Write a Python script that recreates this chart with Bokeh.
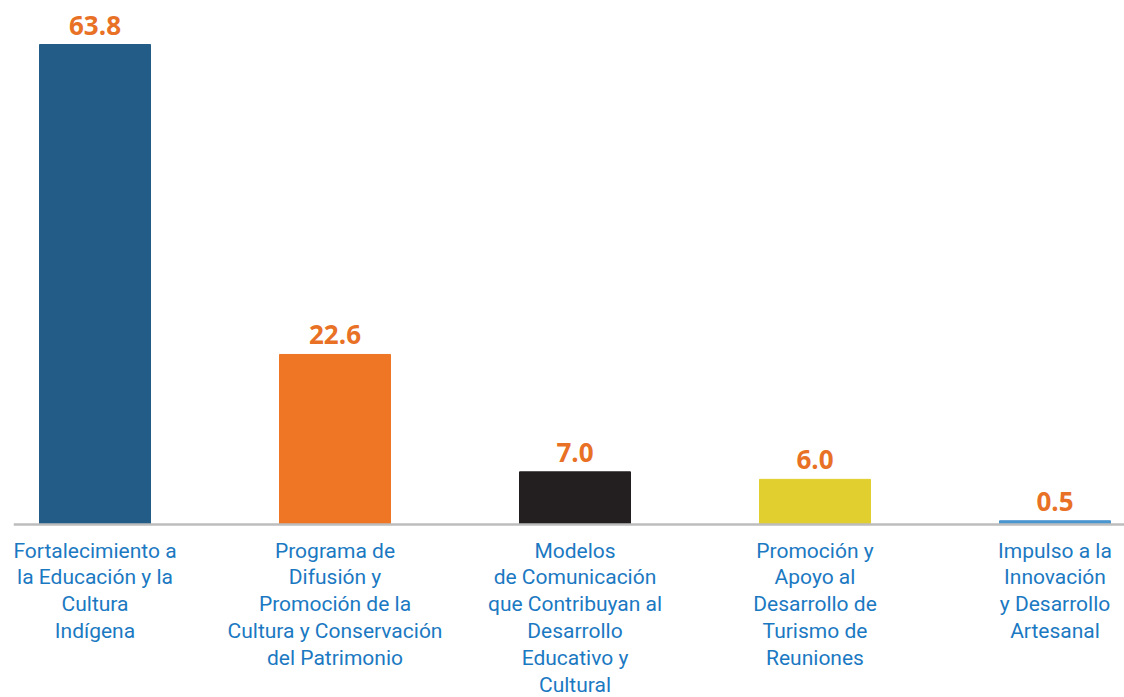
from bokeh.plotting import figure
from bokeh.models import ColumnDataSource, Range1d, Span
from bokeh.core.properties import value
from bokeh.embed import file_html
from bokeh.resources import INLINE

categories = [
    "Fortalecimiento a\nla Educación y la\nCultura\nIndígena",
    "Programa de\nDifusión y\nPromoción de la\nCultura y Conservación\ndel Patrimonio",
    "Modelos\nde Comunicación\nque Contribuyan al\nDesarrollo\nEducativo y\nCultural",
    "Promoción y\nApoyo al\nDesarrollo de\nTurismo de\nReuniones",
    "Impulso a la\nInnovación\ny Desarrollo\nArtesanal",
]
values = [63.8, 22.6, 7.0, 6.0, 0.5]
value_labels = ["63.8", "22.6", "7.0", "6.0", "0.5"]
colors = ["#235D87", "#EE7624", "#231F20", "#E1CF30", "#4A96CF"]

W, H = 1124, 697
LB = 13
base = 524
ppu = 480 / 63.8  # pixels per unit
y_top = base / ppu
y_bot = -(H - base) / ppu
x0 = -(94.5 - LB) / 240
x1 = x0 + (W - LB) / 240

pos = list(range(len(values)))
src = ColumnDataSource(dict(
    x=pos, top=values, color=colors, lab=value_labels, cat=categories,
    ly=[v + 10 / ppu for v in values],
    cy=[-14 / ppu] * len(values),
))

p = figure(width=W, height=H, output_backend="svg", toolbar_location=None,
           x_range=Range1d(x0, x1), y_range=Range1d(y_bot, y_top),
           min_border_left=LB, min_border_right=0, min_border_top=0, min_border_bottom=0)
p.axis.visible = False
p.grid.visible = False
p.outline_line_color = None
p.background_fill_color = "white"
p.border_fill_color = "white"

p.vbar(x="x", top="top", bottom=0, width=111 / 240, color="color", source=src)
p.add_layout(Span(location=0, dimension="width", line_color="#BDBDBD", line_width=2.5))

p.text(x="x", y="ly", text="lab", source=src, text_align="center", text_baseline="bottom",
       text_font=value("Open Sans"), text_font_style="bold", text_font_size="26px",
       text_color="#E87126")
p.text(x="x", y="cy", text="cat", source=src, text_align="center", text_baseline="top",
       text_font=value("Roboto"), text_font_size="21px", text_line_height=1.12,
       text_color="#1B79C2")

open("out.html", "w").write(file_html(p, INLINE))
